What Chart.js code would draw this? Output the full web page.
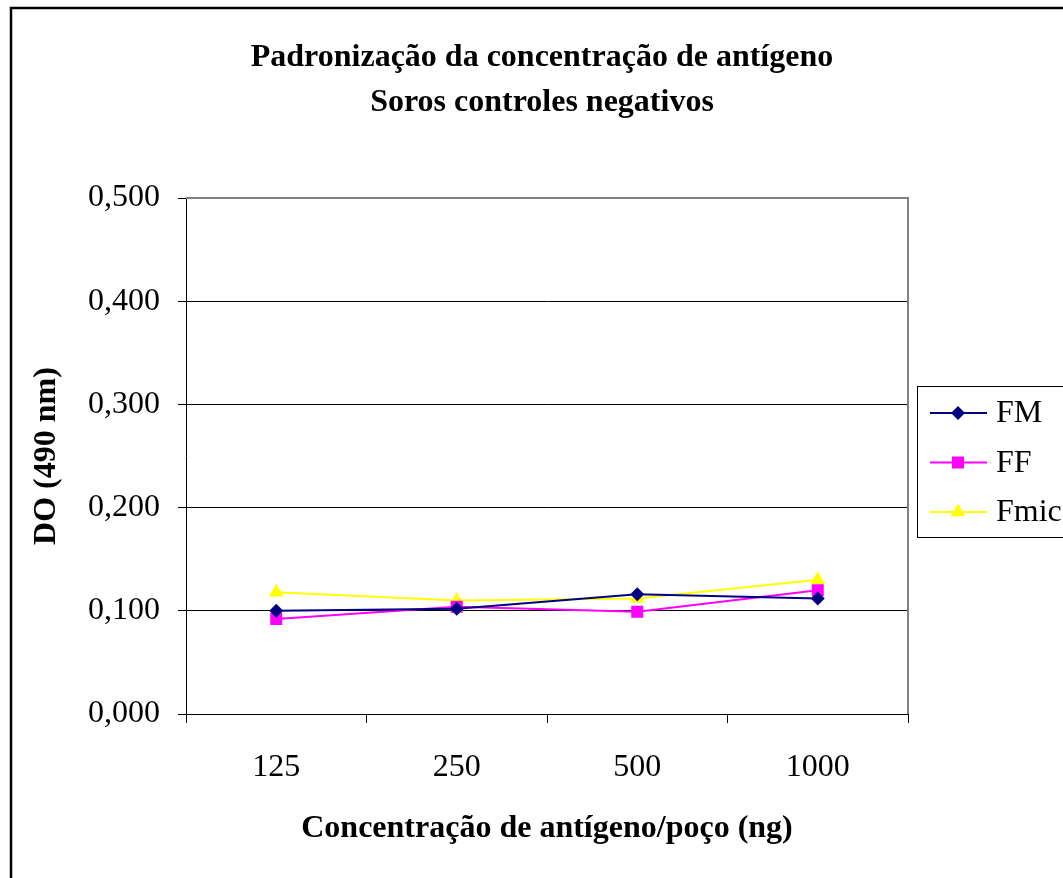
<!DOCTYPE html>
<html lang="pt">
<head>
<meta charset="UTF-8" />
<title>Padronização da concentração de antígeno</title>
<script src="https://cdn.jsdelivr.net/npm/chart.js"></script>
<style>
    body { margin: 0; padding: 0; background: #fff; overflow: hidden; }
    #wrap { position: absolute; left: 0; top: 0; width: 1063px; height: 878px; }
</style>
</head>
<body>
<div id="wrap"><canvas id="chart" width="1063" height="878"></canvas></div>
<script>
const categories = ['125', '250', '500', '1000'];
const fmValues = [0.100, 0.102, 0.116, 0.112];
const ffValues = [0.092, 0.104, 0.099, 0.120];
const fmicValues = [0.118, 0.110, 0.112, 0.130];
const titleLines = ['Padronização da concentração de antígeno', 'Soros controles negativos'];

const serif = "'Liberation Serif', 'Times New Roman', serif";

// outer frame, plot border, title and the boxed legend
const decor = {
    id: 'decor',
    beforeDraw(chart) {
        const ctx = chart.ctx;
        ctx.save();
        ctx.fillStyle = '#fff';
        ctx.fillRect(0, 0, chart.width, chart.height);
        ctx.strokeStyle = '#000';
        ctx.lineWidth = 2.5;
        ctx.beginPath();
        ctx.moveTo(11, 900);
        ctx.lineTo(11, 8);
        ctx.lineTo(1080, 8);
        ctx.stroke();
        ctx.restore();
    },
    beforeDatasetsDraw(chart) {
        const ctx = chart.ctx;
        const a = chart.chartArea;
        ctx.save();
        ctx.strokeStyle = '#808080';
        ctx.lineWidth = 2;
        ctx.beginPath();
        ctx.moveTo(a.left, a.top);
        ctx.lineTo(a.right, a.top);
        ctx.lineTo(a.right, a.bottom);
        ctx.stroke();
        ctx.restore();
    },
    afterDraw(chart) {
        const ctx = chart.ctx;
        ctx.save();
        ctx.fillStyle = '#000';
        ctx.font = 'bold 32px ' + serif;
        ctx.textAlign = 'center';
        ctx.textBaseline = 'middle';
        ctx.fillText(titleLines[0], 542, 58);
        ctx.fillText(titleLines[1], 542, 103);

        // legend
        ctx.strokeStyle = '#000';
        ctx.lineWidth = 1;
        ctx.strokeRect(917.5, 386.5, 160, 151);
        ctx.font = '32px ' + serif;
        ctx.textAlign = 'left';
        chart.data.datasets.forEach((ds, i) => {
            const y = 413 + i * 49.5;
            ctx.strokeStyle = ds.borderColor;
            ctx.lineWidth = 2;
            ctx.beginPath();
            ctx.moveTo(930, y);
            ctx.lineTo(987, y);
            ctx.stroke();
            ctx.fillStyle = ds.pointBackgroundColor;
            Chart.helpers.drawPoint(ctx, {
                pointStyle: ds.pointStyle, radius: ds.pointRadius, rotation: 0, borderWidth: 0
            }, 958, y);
            ctx.fillStyle = '#000';
            ctx.fillText(ds.label, 996, y + 1);
        });
        ctx.restore();
    }
};

function series(label, data, color, style, r) {
    return {
        label: label,
        data: data,
        borderColor: color,
        backgroundColor: color,
        pointBackgroundColor: color,
        pointBorderColor: color,
        pointBorderWidth: 0,
        pointStyle: style,
        pointRadius: r,
        pointHoverRadius: r,
        borderWidth: 2,
        tension: 0
    };
}

new Chart(document.getElementById('chart'), {
    type: 'line',
    data: {
        labels: categories,
        datasets: [
            series('FM', fmValues, '#000080', 'rectRot', 7),
            series('FF', ffValues, '#ff00ff', 'rect', 8.5),
            series('Fmic', fmicValues, '#ffff00', 'triangle', 8.5)
        ]
    },
    plugins: [decor],
    options: {
        responsive: false,
        animation: false,
        layout: { padding: { left: 10, top: 198, right: 155, bottom: 30 } },
        plugins: {
            legend: { display: false },
            title: { display: false },
            tooltip: { enabled: false }
        },
        scales: {
            x: {
                offset: true,
                afterFit(scale) { scale.height = 134; },
                grid: { offset: true, drawOnChartArea: false, drawTicks: true, tickLength: 9, color: '#000', lineWidth: 1 },
                border: { display: true, color: '#000', width: 1 },
                ticks: { color: '#000', font: { family: serif, size: 32 }, padding: 25, maxRotation: 0 },
                title: {
                    display: true,
                    text: 'Concentração de antígeno/poço (ng)',
                    color: '#000',
                    font: { family: serif, size: 32, weight: 'bold' },
                    padding: 0
                }
            },
            y: {
                min: 0,
                max: 0.5,
                afterFit(scale) { scale.width = 176; },
                grid: { color: '#000', lineWidth: 1, drawTicks: true, tickLength: 8 },
                border: { display: true, color: '#000', width: 1 },
                ticks: {
                    stepSize: 0.1,
                    color: '#000',
                    padding: 18,
                    font: { family: serif, size: 32 },
                    callback: v => v.toFixed(3).replace('.', ',')
                },
                title: {
                    display: true,
                    text: 'DO (490 nm)',
                    color: '#000',
                    font: { family: serif, size: 32, weight: 'bold' },
                    padding: { top: 18, bottom: 0 }
                }
            }
        }
    }
});
</script>
</body>
</html>
